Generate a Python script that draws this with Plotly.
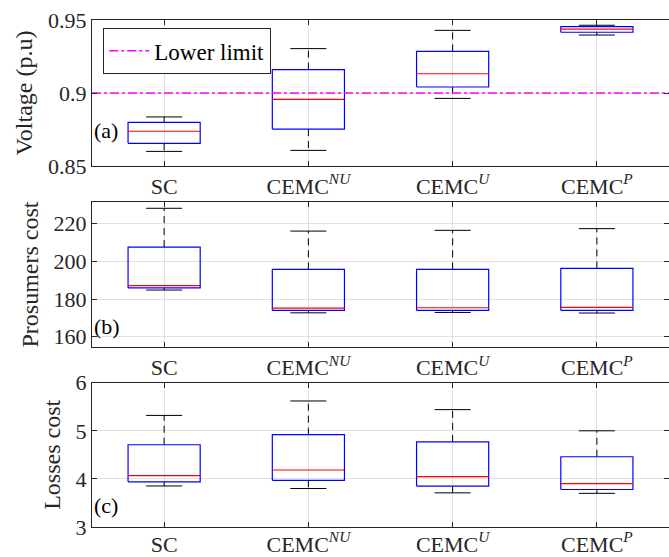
import plotly.graph_objects as go

categories = ["SC", "CEMC<sup><i>NU</i></sup>", "CEMC<sup><i>U</i></sup>", "CEMC<sup><i>P</i></sup>"]

# Voltage (p.u)
volt_low = [0.860, 0.8607, 0.8963, 0.9397]
volt_q1 = [0.8655, 0.8753, 0.9041, 0.9416]
volt_med = [0.8738, 0.8957, 0.9132, 0.9438]
volt_q3 = [0.8799, 0.9160, 0.9285, 0.9454]
volt_high = [0.8836, 0.9304, 0.9429, 0.9464]
lower_limit = 0.9

# Prosumers cost
pros_low = [184.8, 172.7, 172.9, 172.6]
pros_q1 = [185.9, 174.0, 174.0, 174.0]
pros_med = [187.1, 175.2, 175.4, 175.6]
pros_q3 = [207.6, 195.8, 195.8, 196.3]
pros_high = [228.2, 216.1, 216.5, 217.4]

# Losses cost
loss_low = [3.853, 3.80, 3.71, 3.70]
loss_q1 = [3.94, 3.97, 3.85, 3.78]
loss_med = [4.067, 4.185, 4.046, 3.90]
loss_q3 = [4.71, 4.92, 4.77, 4.46]
loss_high = [5.32, 5.62, 5.44, 5.00]

FONT = "'Liberation Serif', 'Times New Roman', serif"
TXT = "#262626"
BOXW = 0.25
CAPW = 0.125

fig = go.Figure()

panels = [
    (volt_low, volt_q1, volt_med, volt_q3, volt_high, "x", "y"),
    (pros_low, pros_q1, pros_med, pros_q3, pros_high, "x2", "y2"),
    (loss_low, loss_q1, loss_med, loss_q3, loss_high, "x3", "y3"),
]

for low, q1, med, q3, high, xa, ya in panels:
    for i in range(len(categories)):
        c = i + 1
        fig.add_trace(go.Scatter(x=[c, c, None, c, c], y=[q3[i], high[i], None, q1[i], low[i]],
                                 mode="lines", line=dict(color="black", width=1, dash="7px,5px"),
                                 showlegend=False, hoverinfo="skip", xaxis=xa, yaxis=ya))
        fig.add_trace(go.Scatter(x=[c - CAPW, c + CAPW, None, c - CAPW, c + CAPW],
                                 y=[high[i], high[i], None, low[i], low[i]],
                                 mode="lines", line=dict(color="black", width=1),
                                 showlegend=False, hoverinfo="skip", xaxis=xa, yaxis=ya))
        fig.add_trace(go.Scatter(x=[c - BOXW, c + BOXW, c + BOXW, c - BOXW, c - BOXW],
                                 y=[q1[i], q1[i], q3[i], q3[i], q1[i]],
                                 mode="lines", line=dict(color="#0000ff", width=1.2),
                                 showlegend=False, hoverinfo="skip", xaxis=xa, yaxis=ya))
        fig.add_trace(go.Scatter(x=[c - BOXW, c + BOXW], y=[med[i], med[i]],
                                 mode="lines", line=dict(color="#ff0000", width=1.2),
                                 showlegend=False, hoverinfo="skip", xaxis=xa, yaxis=ya))

fig.add_trace(go.Scatter(x=[0.5, 4.5], y=[lower_limit, lower_limit], mode="lines",
                         line=dict(color="#ff00ff", width=1.5, dash="dashdot"),
                         name="Lower limit", showlegend=True, hoverinfo="skip",
                         xaxis="x", yaxis="y"))

H = 557
top_m, bot_m = 20, 30
ph = H - top_m - bot_m
def dom(t, b):
    return [(H - bot_m - b) / ph, (H - bot_m - t) / ph]

axis_common = dict(showline=True, linecolor=TXT, linewidth=1.3, mirror="ticks",
                   ticks="inside", ticklen=5, tickcolor=TXT, showgrid=True,
                   gridcolor="#e0e0e0", gridwidth=1, zeroline=False, automargin=False,
                   tickfont=dict(family=FONT, size=22, color=TXT))

xax = dict(axis_common, range=[0.5, 4.5], tickvals=[1, 2, 3, 4], ticktext=categories)

TF = dict(family=FONT, size=24, color=TXT)

layout = dict(
    width=669, height=H,
    margin=dict(l=92, r=0, t=top_m, b=bot_m, autoexpand=False),
    paper_bgcolor="white", plot_bgcolor="white",
    font=dict(family=FONT, size=22, color=TXT),
    showlegend=True,
    legend=dict(x=0.019, y=0.984, xref="paper", yref="paper", xanchor="left", yanchor="top",
                bgcolor="white", bordercolor=TXT, borderwidth=1.3,
                font=dict(family=FONT, size=23, color="black"), itemwidth=40,
                tracegroupgap=0),
    xaxis=dict(xax, anchor="y", domain=[0, 1]),
    xaxis2=dict(xax, anchor="y2", domain=[0, 1]),
    xaxis3=dict(xax, anchor="y3", domain=[0, 1], ticklabelstandoff=-3),
    yaxis=dict(axis_common, anchor="x", domain=dom(20, 166), range=[0.85, 0.95],
               tickvals=[0.85, 0.9, 0.95], ticktext=["0.85", "0.9", "0.95"],
               title=dict(text="Voltage (p.u)", font=TF, standoff=8)),
    yaxis2=dict(axis_common, anchor="x2", domain=dom(201.7, 347.3), range=[154.4, 231.7],
                tickvals=[160, 180, 200, 220],
                title=dict(text="Prosumers cost", font=TF, standoff=8)),
    yaxis3=dict(axis_common, anchor="x3", domain=dom(382.7, 527), range=[3, 6],
                tickvals=[3, 4, 5, 6],
                title=dict(text="Losses cost", font=TF, standoff=8)),
)
fig.update_layout(**layout)

for label, yref, yy in [("(a)", "y domain", 0.24), ("(b)", "y2 domain", 0.14), ("(c)", "y3 domain", 0.148)]:
    fig.add_annotation(text=label, xref=yref.replace("y", "x", 1), yref=yref, x=0.0, y=yy,
                       xanchor="left", yanchor="middle", showarrow=False,
                       font=dict(family=FONT, size=22, color="black"))

fig.write_html("out.html", config={"displayModeBar": False},
               post_script="document.body.style.margin='0';document.body.style.overflow='hidden';")
